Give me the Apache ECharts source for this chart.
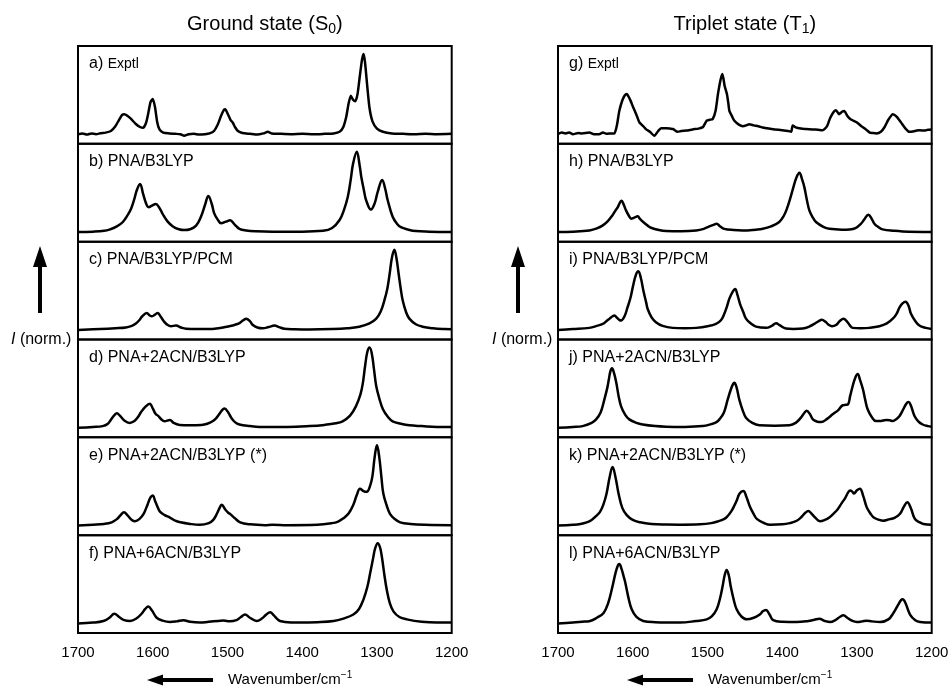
<!DOCTYPE html>
<html>
<head>
<meta charset="utf-8">
<script src="https://cdn.jsdelivr.net/npm/echarts@6/dist/echarts.min.js"></script>
<style>
html, body { margin: 0; padding: 0; background: #fff; }
#chart { width: 951px; height: 691px; }
</style>
</head>
<body>
<div id="chart"></div>
<script>
// Wavenumber axis (cm-1), drawn reversed
var xMin = 1200, xMax = 1700, xStep = 100;

// Ground state spectra, [wavenumber, normalised intensity]
var specA = [[1700,0],[1694,0.01],[1688,-0.005],[1682,0.01],[1676,0.0],[1670,0.012],[1663,0.02],[1656,0.04],[1650,0.1],[1645,0.18],[1641,0.24],[1638,0.25],[1634,0.23],[1629,0.19],[1623,0.13],[1617,0.09],[1613,0.08],[1609,0.14],[1606,0.26],[1603,0.4],[1600,0.44],[1597,0.34],[1594,0.15],[1591,0.06],[1586,0.02],[1578,0.01],[1570,0.005],[1563,0.0],[1558,-0.02],[1552,0.0],[1545,0.005],[1538,-0.005],[1530,0.0],[1524,0.01],[1518,0.04],[1513,0.12],[1509,0.22],[1505,0.3],[1503,0.31],[1500,0.26],[1496,0.18],[1493,0.146],[1490,0.09],[1486,0.04],[1480,0.015],[1470,0.005],[1460,-0.005],[1452,0.01],[1446,0.03],[1441,0.01],[1430,0.005],[1415,0.0],[1400,0.005],[1385,0.0],[1370,0.005],[1358,0.01],[1350,0.03],[1345,0.09],[1341,0.22],[1338,0.38],[1335,0.48],[1332,0.43],[1329,0.41],[1326,0.5],[1323,0.72],[1320,0.93],[1318,1.0],[1316,0.9],[1313,0.6],[1310,0.33],[1306,0.16],[1300,0.07],[1292,0.03],[1280,0.01],[1265,0.005],[1250,0.0],[1235,0.005],[1220,0.0],[1200,0.005]];
var specB = [[1700,0],[1680,0.005],[1665,0.015],[1658,0.03],[1648,0.07],[1640,0.125],[1633,0.22],[1629,0.29],[1625,0.4],[1621,0.53],[1617,0.6],[1613,0.48],[1609,0.36],[1605.5,0.31],[1601,0.33],[1596,0.35],[1591,0.3],[1587,0.23],[1580,0.13],[1573,0.07],[1565,0.035],[1558,0.025],[1550,0.035],[1542,0.08],[1535.5,0.19],[1530,0.34],[1525.6,0.45],[1521,0.35],[1517.6,0.23],[1512,0.14],[1508.7,0.11],[1502,0.13],[1496.6,0.146],[1490,0.09],[1484,0.04],[1475,0.02],[1462,0.01],[1440,0.005],[1400,0.005],[1372,0.015],[1360,0.05],[1350,0.15],[1344,0.28],[1339,0.44],[1335,0.66],[1332,0.85],[1327,1.0],[1323,0.82],[1321,0.69],[1317,0.5],[1314.6,0.4],[1308,0.28],[1303,0.36],[1299,0.5],[1293,0.65],[1289,0.54],[1285.7,0.4],[1279,0.19],[1273,0.1],[1268,0.06],[1258,0.03],[1248,0.012],[1230,0.005],[1200,0]];
var specC = [[1700,0],[1670,0.01],[1650,0.02],[1636,0.03],[1628,0.05],[1623,0.075],[1618,0.12],[1614,0.17],[1608,0.21],[1604,0.18],[1601,0.17],[1597,0.19],[1593.4,0.21],[1589,0.16],[1584.5,0.1],[1580,0.06],[1575.6,0.045],[1569,0.054],[1562,0.03],[1555.5,0.015],[1540,0.01],[1524,0.01],[1512,0.02],[1506,0.03],[1498,0.045],[1493,0.055],[1488,0.07],[1484,0.085],[1479,0.12],[1475,0.14],[1470,0.11],[1466,0.06],[1460,0.03],[1453,0.02],[1445,0.035],[1437,0.054],[1431,0.035],[1424,0.015],[1410,0.008],[1390,0.005],[1360,0.01],[1340,0.02],[1323.6,0.04],[1310,0.08],[1301,0.14],[1295,0.23],[1290,0.37],[1286,0.52],[1283,0.7],[1280,0.9],[1276.7,1.0],[1274,0.9],[1271,0.7],[1268,0.5],[1265.6,0.37],[1261,0.22],[1256.7,0.14],[1248,0.07],[1239,0.04],[1225,0.02],[1210,0.01],[1200,0.008]];
var specD = [[1700,0],[1680,0.01],[1667,0.02],[1660,0.05],[1656,0.1],[1651,0.16],[1648,0.18],[1644,0.15],[1638,0.09],[1631,0.06],[1625,0.08],[1620,0.13],[1616,0.19],[1610,0.26],[1604,0.3],[1600,0.24],[1596,0.17],[1593,0.15],[1588,0.1],[1584.5,0.08],[1577,0.096],[1572,0.06],[1564,0.035],[1550,0.03],[1535,0.035],[1527,0.05],[1520,0.08],[1515,0.12],[1511,0.17],[1504,0.24],[1499,0.19],[1495,0.125],[1490,0.07],[1484,0.04],[1470,0.02],[1457,0.01],[1420,0.01],[1390,0.02],[1370,0.035],[1355,0.055],[1346,0.08],[1336,0.15],[1328,0.27],[1322,0.42],[1319,0.55],[1316,0.76],[1313,0.94],[1310,1.0],[1307,0.93],[1304,0.73],[1301,0.52],[1297,0.37],[1292,0.23],[1285,0.13],[1279,0.08],[1268,0.05],[1256.6,0.03],[1240,0.02],[1220,0.01],[1200,0.01]];
var specE = [[1700,0],[1680,0.01],[1665,0.02],[1655,0.04],[1648,0.08],[1643,0.13],[1638.5,0.167],[1634,0.13],[1628,0.07],[1623.7,0.054],[1618,0.08],[1612,0.15],[1607,0.26],[1603,0.35],[1600,0.375],[1597,0.31],[1593,0.22],[1590,0.17],[1584,0.13],[1577,0.1],[1570,0.06],[1563,0.04],[1550,0.02],[1537,0.01],[1525,0.03],[1519,0.07],[1514,0.15],[1510,0.23],[1507.7,0.26],[1503,0.2],[1499,0.16],[1496.6,0.146],[1490,0.09],[1483,0.04],[1470,0.015],[1450,0.005],[1440,0.01],[1420,0.005],[1380,0.01],[1360,0.03],[1352,0.05],[1345,0.09],[1338,0.15],[1331.6,0.26],[1327,0.38],[1322.7,0.46],[1318,0.43],[1313.7,0.42],[1309,0.5],[1306,0.62],[1303,0.86],[1300,1.0],[1297,0.86],[1294,0.6],[1291.5,0.4],[1287,0.25],[1282.6,0.146],[1276,0.08],[1269,0.04],[1255,0.02],[1235,0.01],[1200,0.005]];
var specF = [[1700,0],[1680,0.01],[1666,0.03],[1658,0.07],[1651.4,0.12],[1645,0.08],[1638,0.04],[1630.4,0.03],[1622,0.06],[1615,0.12],[1610,0.18],[1606,0.21],[1601,0.16],[1594.7,0.07],[1587,0.035],[1577,0.017],[1568,0.025],[1559,0.04],[1550,0.02],[1537,0.01],[1525,0.02],[1512,0.03],[1505,0.035],[1497,0.025],[1488,0.04],[1482,0.08],[1476.5,0.11],[1470,0.07],[1461,0.03],[1454,0.06],[1448,0.11],[1443,0.14],[1438,0.1],[1434,0.06],[1429.7,0.03],[1415,0.012],[1403,0.01],[1380,0.015],[1358,0.03],[1345,0.06],[1331.6,0.11],[1324,0.18],[1318,0.3],[1313,0.45],[1309,0.63],[1305,0.82],[1302.6,0.93],[1299,1.0],[1296,0.95],[1293.6,0.84],[1290,0.6],[1287,0.425],[1283,0.26],[1278,0.15],[1270,0.08],[1260,0.05],[1240,0.02],[1220,0.01],[1200,0.01]];

// Triplet state spectra
var specG = [[1700,0],[1695,0.02],[1690,0.01],[1685,0.02],[1680,0.0],[1673,0.015],[1668,0.01],[1658,0.02],[1652,0.0],[1645,0.0],[1640,0.02],[1635,0.005],[1628,0.01],[1624.5,0.01],[1621,0.12],[1618,0.29],[1614,0.42],[1611,0.48],[1608,0.5],[1604,0.44],[1600,0.35],[1595,0.24],[1591,0.146],[1586,0.1],[1582,0.06],[1577,0.03],[1571,-0.02],[1566,0.04],[1562,0.075],[1555,0.075],[1550,0.07],[1546,0.065],[1540,0.03],[1535,0.04],[1528,0.045],[1520,0.06],[1512,0.07],[1506,0.09],[1501,0.17],[1497,0.18],[1493,0.19],[1489,0.3],[1486,0.5],[1482.5,0.68],[1480,0.75],[1477,0.6],[1474,0.5],[1472,0.38],[1470.7,0.29],[1467,0.22],[1464,0.167],[1458,0.12],[1453,0.1],[1448,0.11],[1444,0.125],[1438,0.11],[1432,0.1],[1426,0.083],[1418,0.07],[1410,0.06],[1400,0.05],[1392,0.04],[1388,0.03],[1386,0.11],[1382,0.085],[1375,0.07],[1368,0.065],[1360,0.06],[1352,0.055],[1346,0.05],[1340,0.1],[1336,0.2],[1331,0.28],[1328,0.3],[1324,0.25],[1320,0.28],[1317,0.29],[1313,0.23],[1309,0.19],[1305,0.17],[1300,0.146],[1294,0.1],[1288,0.06],[1283,0.02],[1279,0.015],[1274,0.01],[1268,0.03],[1263,0.09],[1258,0.18],[1252,0.25],[1247,0.22],[1241,0.146],[1235,0.07],[1230,0.03],[1225,0.035],[1220,0.045],[1216,0.05],[1210,0.045],[1205,0.055],[1200,0.06]];
var specH = [[1700,0],[1680,0.005],[1658,0.02],[1648,0.045],[1640,0.083],[1633,0.14],[1627,0.21],[1623,0.27],[1620,0.31],[1617,0.37],[1615,0.39],[1612,0.34],[1609,0.27],[1605,0.2],[1602,0.167],[1598,0.18],[1593.4,0.196],[1590,0.16],[1586,0.125],[1580,0.08],[1575.6,0.054],[1565,0.025],[1555.5,0.0125],[1535,0.01],[1515,0.02],[1505,0.04],[1497.5,0.07],[1492,0.09],[1487.7,0.104],[1483,0.07],[1477.5,0.04],[1465,0.025],[1453,0.02],[1435,0.03],[1426,0.04],[1415,0.07],[1404,0.125],[1398,0.2],[1393,0.31],[1389,0.43],[1385,0.56],[1381,0.68],[1377,0.74],[1373.5,0.66],[1370.4,0.56],[1367,0.4],[1363.7,0.27],[1359,0.18],[1354.8,0.125],[1345,0.065],[1337,0.04],[1320,0.03],[1310,0.033],[1302,0.05],[1294.6,0.104],[1290,0.16],[1284.8,0.217],[1280,0.16],[1276.7,0.104],[1271,0.06],[1265.6,0.033],[1250,0.015],[1239,0.008],[1200,0]];
var specI = [[1700,0],[1680,0.01],[1658,0.025],[1648,0.05],[1640,0.075],[1635,0.11],[1631,0.14],[1627,0.17],[1624.6,0.18],[1621,0.15],[1618,0.125],[1615.7,0.117],[1611,0.17],[1607,0.28],[1603,0.4],[1600,0.53],[1596,0.68],[1592.5,0.73],[1589,0.64],[1585.8,0.49],[1582,0.34],[1580,0.26],[1575,0.16],[1569,0.096],[1560,0.05],[1546.6,0.025],[1530,0.02],[1515,0.025],[1500,0.045],[1488.6,0.075],[1482,0.12],[1477.5,0.2],[1474,0.29],[1470.7,0.39],[1466,0.48],[1463,0.51],[1460,0.44],[1456.5,0.325],[1452,0.22],[1448.5,0.14],[1442,0.08],[1435,0.04],[1421.7,0.025],[1414,0.05],[1408.3,0.083],[1403,0.055],[1395,0.017],[1385,0.012],[1372.6,0.017],[1364,0.04],[1357,0.075],[1351,0.11],[1347,0.125],[1342,0.1],[1338,0.065],[1333.4,0.045],[1328,0.06],[1323,0.11],[1318,0.1375],[1313,0.1],[1309,0.05],[1305.7,0.025],[1295,0.02],[1283.4,0.025],[1270,0.045],[1260,0.08],[1252,0.14],[1247,0.2],[1243,0.28],[1239,0.33],[1235,0.35],[1231,0.3],[1227.7,0.2],[1222,0.11],[1216.5,0.054],[1208,0.025],[1200,0.012]];
var specJ = [[1700,0],[1680,0.01],[1667,0.02],[1655,0.06],[1649,0.104],[1643,0.19],[1638,0.35],[1634,0.5],[1632,0.6],[1630,0.7],[1627.7,0.74],[1625,0.68],[1622,0.56],[1619,0.4],[1615.7,0.27],[1610,0.16],[1604.6,0.104],[1595,0.06],[1586.7,0.04],[1570,0.02],[1555.5,0.0125],[1530,0.01],[1506.4,0.02],[1495,0.045],[1488,0.07],[1484,0.104],[1478,0.19],[1473,0.35],[1469,0.47],[1466,0.54],[1464,0.56],[1461,0.5],[1457.4,0.35],[1453,0.22],[1448.5,0.125],[1440,0.06],[1430.6,0.03],[1410,0.025],[1390.5,0.03],[1382,0.06],[1375,0.125],[1370,0.19],[1367.3,0.21],[1363,0.17],[1359,0.104],[1353,0.075],[1348,0.07],[1340,0.11],[1332.5,0.167],[1325,0.22],[1319,0.28],[1315,0.285],[1312,0.29],[1309,0.4],[1305.7,0.52],[1302,0.63],[1299,0.67],[1296,0.6],[1292,0.48],[1289,0.35],[1285.7,0.23],[1280,0.13],[1274.5,0.083],[1268,0.085],[1261,0.096],[1256,0.092],[1252,0.083],[1247,0.11],[1243,0.146],[1238,0.23],[1234,0.3],[1231,0.32],[1228,0.28],[1223,0.146],[1218,0.08],[1212,0.04],[1205,0.02],[1200,0.012]];
var specK = [[1700,0],[1680,0.01],[1670,0.02],[1661.6,0.04],[1655,0.07],[1650,0.11],[1643.8,0.17],[1639,0.27],[1635,0.4],[1631,0.6],[1627,0.73],[1623,0.6],[1619,0.4],[1614,0.22],[1608,0.13],[1600,0.07],[1590,0.04],[1575,0.02],[1555,0.012],[1537,0.01],[1510,0.015],[1495,0.03],[1485,0.055],[1478,0.08],[1474.3,0.104],[1468,0.18],[1464,0.25],[1461,0.31],[1457,0.4],[1452,0.43],[1448,0.36],[1443,0.23],[1438,0.14],[1434,0.083],[1425,0.035],[1416,0.01],[1400,0.015],[1390,0.03],[1380.6,0.06],[1374,0.11],[1369,0.16],[1365,0.18],[1361,0.15],[1356,0.1],[1349.5,0.054],[1343,0.07],[1337,0.1],[1331.6,0.146],[1326,0.2],[1320.4,0.28],[1316,0.34],[1312,0.41],[1309,0.4375],[1306,0.42],[1304,0.4],[1300,0.44],[1296,0.46],[1292,0.38],[1287,0.23],[1282,0.15],[1278,0.104],[1270,0.07],[1264.7,0.06],[1260,0.07],[1255.8,0.08],[1249,0.1],[1242.4,0.146],[1237,0.24],[1232.6,0.29],[1228,0.22],[1222.5,0.083],[1216,0.04],[1211,0.02],[1200,0.01]];
var specL = [[1700,0],[1680,0.01],[1668,0.02],[1657,0.03],[1648,0.07],[1639,0.13],[1633,0.25],[1628,0.425],[1623,0.63],[1620,0.72],[1618,0.74],[1615,0.68],[1612,0.58],[1610,0.51],[1606,0.33],[1601.4,0.175],[1595,0.08],[1586,0.03],[1570,0.015],[1537,0.01],[1515,0.03],[1501,0.05],[1494,0.09],[1487.7,0.175],[1483,0.32],[1479.7,0.467],[1477,0.6],[1474.3,0.667],[1471.5,0.6],[1469,0.467],[1465,0.3],[1461,0.175],[1455,0.09],[1447.6,0.05],[1438,0.07],[1430,0.11],[1426,0.15],[1421.7,0.167],[1417,0.11],[1412,0.04],[1400,0.02],[1380.6,0.017],[1365,0.03],[1357,0.045],[1350.4,0.058],[1343,0.03],[1336,0.017],[1329,0.04],[1323,0.08],[1318,0.1],[1313,0.07],[1306,0.03],[1300,0.017],[1293,0.025],[1287,0.033],[1280,0.025],[1269,0.017],[1258,0.05],[1251,0.133],[1245,0.23],[1241,0.29],[1238.8,0.3],[1235,0.25],[1229,0.11],[1222,0.04],[1215.6,0.017],[1200,0.01]];

var groundSpectra  = [specA, specB, specC, specD, specE, specF];
var tripletSpectra = [specG, specH, specI, specJ, specK, specL];
var groundLabels   = ['a) ', 'b) PNA/B3LYP', 'c) PNA/B3LYP/PCM', 'd) PNA+2ACN/B3LYP', 'e) PNA+2ACN/B3LYP (*)', 'f) PNA+6ACN/B3LYP'];
var tripletLabels  = ['g) ', 'h) PNA/B3LYP', 'i) PNA/B3LYP/PCM', 'j) PNA+2ACN/B3LYP', 'k) PNA+2ACN/B3LYP (*)', 'l) PNA+6ACN/B3LYP'];

(function () {
    var FONT = '"Liberation Sans", Arial, Helvetica, sans-serif';
    var chart = echarts.init(document.getElementById('chart'), null, { renderer: 'canvas' });

    var TOP = 46, BOTTOM = 633, PANEL_W = 373.7;
    var panelLeft = [78, 558];
    var rowH = (BOTTOM - TOP) / 6;

    var grids = [], xAxes = [], yAxes = [], series = [], graphics = [];
    var panels = [
        { spectra: groundSpectra,  labels: groundLabels },
        { spectra: tripletSpectra, labels: tripletLabels }
    ];

    panels.forEach(function (panel, p) {
        panel.spectra.forEach(function (spec, k) {
            var idx = grids.length;
            var top = TOP + k * rowH;
            grids.push({
                left: panelLeft[p], top: top, width: PANEL_W, height: rowH,
                outerBoundsMode: 'none', containLabel: false,
                show: true, borderColor: '#000', borderWidth: 2,
                backgroundColor: 'transparent'
            });
            xAxes.push({
                type: 'value', gridIndex: idx, min: xMin, max: xMax, interval: xStep,
                inverse: true,
                axisLine: { show: false }, axisTick: { show: false }, splitLine: { show: false },
                axisLabel: {
                    show: k === 5, color: '#000', fontSize: 15, fontFamily: FONT, margin: 12,
                    showMinLabel: true, showMaxLabel: true,
                    formatter: function (v) { return String(v); }
                }
            });
            yAxes.push({ type: 'value', gridIndex: idx, min: -0.12, max: 1.1, show: false });
            series.push({
                type: 'line', xAxisIndex: idx, yAxisIndex: idx, data: spec,
                showSymbol: false, silent: true,
                smooth: (k === 0) ? 0.2 : 0.4,
                lineStyle: { color: '#000', width: 2.5, join: 'round' }
            });

            // subplot label
            var lbl = panel.labels[k];
            var txt = (k === 0) ? '{m|' + lbl + '}{s|Exptl}' : '{m|' + lbl + '}';
            graphics.push({
                type: 'text', left: panelLeft[p] + 11, top: top + 10, z: 10,
                style: {
                    text: txt,
                    rich: {
                        m: { fontSize: 16, fontFamily: FONT, fill: '#000' },
                        s: { fontSize: 14, fontFamily: FONT, fill: '#000' }
                    }
                }
            });
        });
    });

    // panel titles
    var titles = [['Ground state (S', '0', ')'], ['Triplet state (T', '1', ')']];
    titles.forEach(function (t, p) {
        graphics.push({
            type: 'text', x: panelLeft[p] + PANEL_W / 2, y: 24, z: 10,
            style: {
                text: '{m|' + t[0] + '}{sub|' + t[1] + '}{m|' + t[2] + '}',
                align: 'center', verticalAlign: 'middle',
                rich: {
                    m: { fontSize: 20, fontFamily: FONT, fill: '#000', lineHeight: 24 },
                    sub: { fontSize: 14, fontFamily: FONT, fill: '#000', lineHeight: 14, padding: [10, 0, 0, 0] }
                }
            }
        });
    });

    // y labels + up arrows, x labels + left arrows
    var yLabelX = [11, 492], upArrowX = [40, 518];
    var xLabelX = [228, 708], leftArrowX = [147, 627];
    [0, 1].forEach(function (p) {
        graphics.push({
            type: 'text', x: yLabelX[p], y: 340, z: 10,
            style: {
                text: '{i|I}{m| (norm.)}', verticalAlign: 'middle',
                rich: {
                    i: { fontSize: 16, fontFamily: FONT, fontStyle: 'italic', fill: '#000' },
                    m: { fontSize: 16, fontFamily: FONT, fill: '#000' }
                }
            }
        });
        var ax = upArrowX[p];
        graphics.push({ type: 'line', z: 10, shape: { x1: ax, y1: 313, x2: ax, y2: 262 }, style: { stroke: '#000', lineWidth: 4 } });
        graphics.push({ type: 'polygon', z: 10, shape: { points: [[ax, 246], [ax - 7, 267], [ax + 7, 267]] }, style: { fill: '#000' } });

        graphics.push({
            type: 'text', x: xLabelX[p], y: 680, z: 10,
            style: {
                text: '{m|Wavenumber/cm}{sup|\u22121}', verticalAlign: 'middle',
                rich: {
                    m: { fontSize: 15, fontFamily: FONT, fill: '#000', lineHeight: 20 },
                    sup: { fontSize: 10, fontFamily: FONT, fill: '#000', lineHeight: 10, padding: [0, 0, 10, 0] }
                }
            }
        });
        var lx = leftArrowX[p];
        graphics.push({ type: 'line', z: 10, shape: { x1: lx + 14, y1: 680, x2: lx + 66, y2: 680 }, style: { stroke: '#000', lineWidth: 4 } });
        graphics.push({ type: 'polygon', z: 10, shape: { points: [[lx, 680], [lx + 16, 674.5], [lx + 16, 685.5]] }, style: { fill: '#000' } });
    });

    chart.setOption({
        animation: false,
        backgroundColor: '#fff',
        grid: grids,
        xAxis: xAxes,
        yAxis: yAxes,
        series: series,
        graphic: graphics
    });

    window.addEventListener('resize', function () { chart.resize(); });
})();
</script>
</body>
</html>
